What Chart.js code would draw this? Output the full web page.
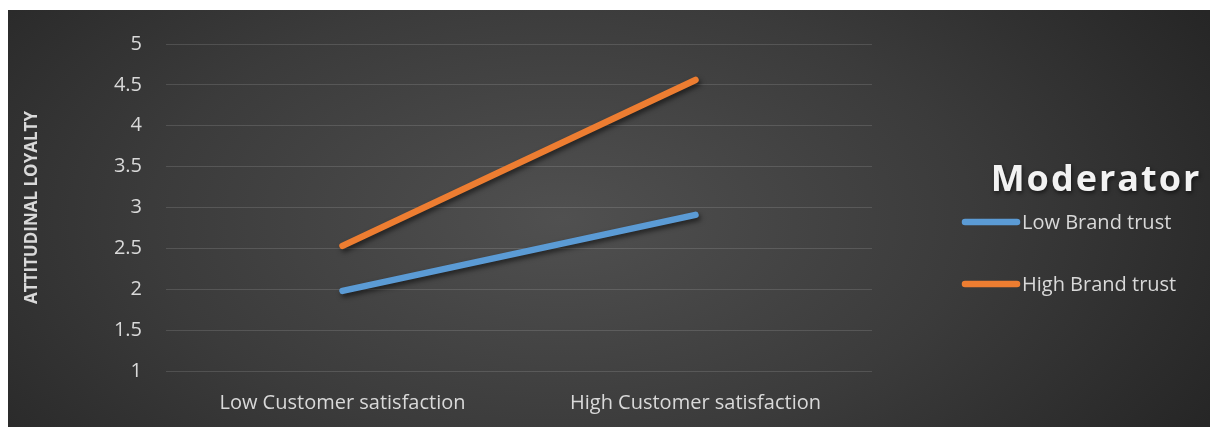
<!DOCTYPE html>
<html>
<head>
<meta charset="utf-8">
<script src="https://cdn.jsdelivr.net/npm/chart.js@4/dist/chart.umd.min.js"></script>
<style>
  html, body { margin: 0; padding: 0; background: #ffffff; }
  #wrap { width: 1210px; height: 427px; position: relative; }
</style>
</head>
<body>
<div id="wrap"><canvas id="c" width="1210" height="427"></canvas></div>
<script>
// Interaction plot: attitudinal loyalty by customer satisfaction, moderated by brand trust
const categories = ['Low Customer satisfaction', 'High Customer satisfaction'];
const lowBrandTrust = [1.98, 2.91];
const highBrandTrust = [2.53, 4.56];
const seriesNames = ['Low Brand trust', 'High Brand trust'];
const seriesColors = ['#5B9BD5', '#ED7D31'];
const yTicks = [1, 1.5, 2, 2.5, 3, 3.5, 4, 4.5, 5];
const yTitle = 'ATTITUDINAL LOYALTY';
const legendTitle = 'Moderator';

const FONT = '"Open Sans", "Noto Sans", sans-serif';
const TEXT = '#d9d9d9';

// Dark panel with a soft light centre
const panelBackground = {
  id: 'panelBackground',
  beforeDraw(chart) {
    const ctx = chart.ctx;
    const x0 = 8, y0 = 10, w = chart.width - x0, h = chart.height - y0;
    ctx.save();
    ctx.fillStyle = '#262626';
    ctx.fillRect(x0, y0, w, h);
    const cx = x0 + w * 0.46, cy = y0 + h * 0.5;
    ctx.translate(cx, cy);
    ctx.scale(1, 0.55);
    const r = w * 0.62;
    const g = ctx.createRadialGradient(0, 0, 0, 0, 0, r);
    g.addColorStop(0, '#505050');
    g.addColorStop(0.55, '#3b3b3b');
    g.addColorStop(1, '#262626');
    ctx.fillStyle = g;
    ctx.fillRect(-cx + x0, (-cy + y0) / 0.55, w, h / 0.55);
    ctx.restore();
  }
};

// Soft drop shadow under each series line
const lineShadow = {
  id: 'lineShadow',
  beforeDatasetDraw(chart) {
    const ctx = chart.ctx;
    ctx.save();
    ctx.shadowColor = 'rgba(0,0,0,0.55)';
    ctx.shadowBlur = 5;
    ctx.shadowOffsetX = 2;
    ctx.shadowOffsetY = 3;
  },
  afterDatasetDraw(chart) {
    chart.ctx.restore();
  }
};

// Legend block on the right, built from the dataset labels and colours
const sideLegend = {
  id: 'sideLegend',
  afterDraw(chart) {
    const ctx = chart.ctx;
    ctx.save();
    ctx.font = 'bold 36px ' + FONT;
    ctx.fillStyle = '#f2f2f2';
    ctx.textAlign = 'center';
    ctx.textBaseline = 'middle';
    ctx.shadowColor = 'rgba(0,0,0,0.6)';
    ctx.shadowBlur = 4;
    ctx.shadowOffsetX = 1;
    ctx.shadowOffsetY = 2;
    if ('letterSpacing' in ctx) ctx.letterSpacing = '2px';
    ctx.fillText(legendTitle, 1096, 181);
    ctx.restore();

    const rows = [222, 284];
    chart.data.datasets.forEach((ds, i) => {
      const y = rows[i];
      ctx.save();
      ctx.strokeStyle = ds.borderColor;
      ctx.lineWidth = 6.5;
      ctx.lineCap = 'round';
      ctx.beginPath();
      ctx.moveTo(965, y);
      ctx.lineTo(1017, y);
      ctx.stroke();
      ctx.font = '20px ' + FONT;
      ctx.fillStyle = TEXT;
      ctx.textAlign = 'left';
      ctx.textBaseline = 'middle';
      ctx.fillText(ds.label, 1022, y + 1);
      ctx.restore();
    });
  }
};

new Chart(document.getElementById('c'), {
  type: 'line',
  data: {
    labels: categories,
    datasets: [
      { label: seriesNames[0], data: lowBrandTrust, borderColor: seriesColors[0], backgroundColor: seriesColors[0] },
      { label: seriesNames[1], data: highBrandTrust, borderColor: seriesColors[1], backgroundColor: seriesColors[1] }
    ]
  },
  options: {
    responsive: false,
    animation: false,
    layout: { padding: { left: 8, top: 44, right: 338, bottom: 0 } },
    elements: {
      line: { borderWidth: 6.5, borderCapStyle: 'round', borderJoinStyle: 'round', tension: 0 },
      point: { radius: 0, hoverRadius: 0 }
    },
    plugins: {
      legend: { display: false },
      tooltip: { enabled: false }
    },
    scales: {
      x: {
        offset: true,
        grid: { display: false, drawTicks: false },
        border: { display: false },
        ticks: { color: TEXT, font: { family: FONT, size: 20 }, padding: 20, maxRotation: 0 },
        afterFit(scale) { scale.height = 56; }
      },
      y: {
        min: 1,
        max: 5,
        afterBuildTicks(scale) { scale.ticks = yTicks.map(v => ({ value: v })); },
        grid: { color: 'rgba(255,255,255,0.13)', lineWidth: 1, drawTicks: false },
        border: { display: false },
        ticks: {
          color: TEXT,
          font: { family: FONT, size: 20 },
          padding: 24,
          callback: v => String(v)
        },
        title: {
          display: true,
          text: yTitle,
          color: TEXT,
          font: { family: FONT, size: 17, weight: 'bold' },
          padding: { top: 14, bottom: 0 }
        },
        afterFit(scale) { scale.width = 158; }
      }
    }
  },
  plugins: [panelBackground, lineShadow, sideLegend]
});
</script>
</body>
</html>
